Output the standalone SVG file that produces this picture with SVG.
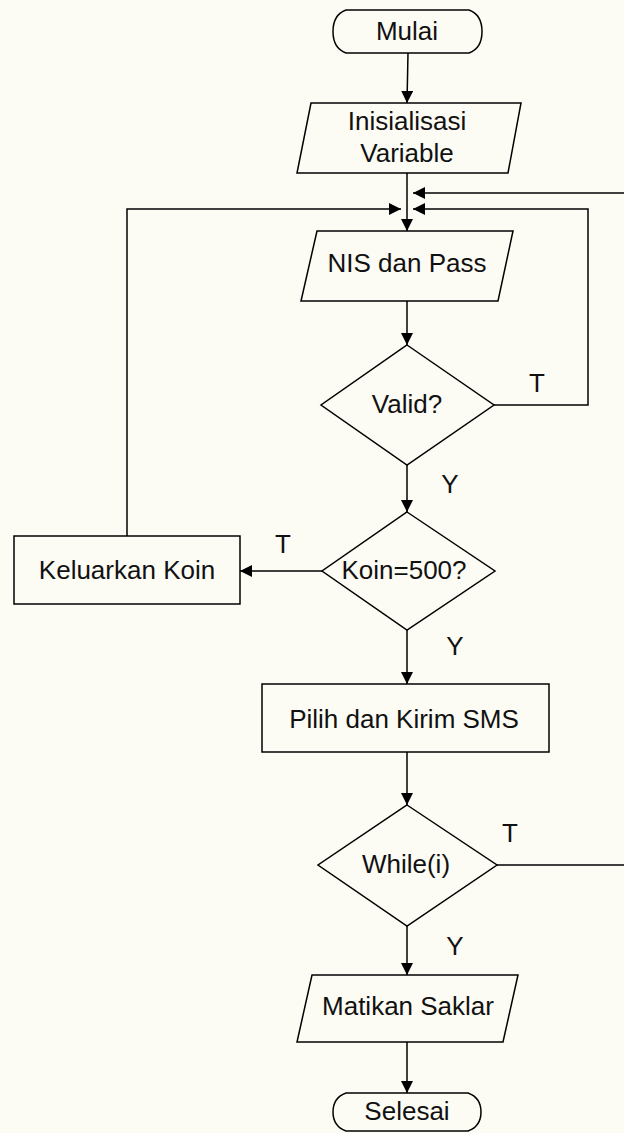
<svg xmlns="http://www.w3.org/2000/svg" width="624" height="1133" viewBox="0 0 624 1133">
<defs>
<style>
.s{fill:none;stroke:#000;stroke-width:1.5}
.n{fill:#fcfcf5;stroke:#000;stroke-width:1.5}
.t{font-family:"Liberation Sans",Arial,sans-serif;font-size:26px;fill:#111;text-anchor:middle}
</style>
<marker id="a" viewBox="0 0 12 12" refX="12" refY="6" markerWidth="12" markerHeight="12" markerUnits="userSpaceOnUse" orient="auto">
<path d="M0,0 L12,6 L0,12 z" fill="#000"/>
</marker>
</defs>
<rect width="624" height="1133" fill="#fcfcf5"/>
<g id="connectors">
<path class="s" d="M408,53 L407,103" marker-end="url(#a)"/>
<path class="s" d="M407,173 L407,231" marker-end="url(#a)"/>
<path class="s" d="M624,193 L413,193" marker-end="url(#a)"/>
<path class="s" d="M494,405 L588,405 L588,209 L413,209" marker-end="url(#a)"/>
<path class="s" d="M127,536 L127,209 L401,209" marker-end="url(#a)"/>
<path class="s" d="M407,301 L407,345" marker-end="url(#a)"/>
<path class="s" d="M407,465 L407,512" marker-end="url(#a)"/>
<path class="s" d="M322,571 L240,571" marker-end="url(#a)"/>
<path class="s" d="M407,630 L407,684" marker-end="url(#a)"/>
<path class="s" d="M407,752 L407,805" marker-end="url(#a)"/>
<path class="s" d="M497,865 L624,865"/>
<path class="s" d="M407,926 L407,975" marker-end="url(#a)"/>
<path class="s" d="M407,1042 L407,1093" marker-end="url(#a)"/>
<text class="t" x="537" y="392">T</text>
<text class="t" x="450" y="493">Y</text>
<text class="t" x="283" y="553">T</text>
<text class="t" x="455" y="655">Y</text>
<text class="t" x="510" y="842">T</text>
<text class="t" x="455" y="955">Y</text>
</g>
<g id="mulai">
<path class="n" d="M346,10 L469,10 C480,14 482,24 482,31.5 C482,39 480,49 469,53 L346,53 C335,49 333,39 333,31.5 C333,24 335,14 346,10 z"/>
<text class="t" x="407" y="40">Mulai</text>
</g>
<g id="inisialisasi">
<path class="n" d="M311,103 L521,103 L508,173 L297,173 z"/>
<text class="t" x="407" y="130">Inisialisasi</text>
<text class="t" x="407" y="162">Variable</text>
</g>
<g id="nis">
<path class="n" d="M317,231 L513,231 L498,301 L301,301 z"/>
<text class="t" x="407" y="272">NIS dan Pass</text>
</g>
<g id="valid">
<path class="n" d="M407,345 L494,405 L407,465 L321,405 z"/>
<text class="t" x="407" y="413">Valid?</text>
</g>
<g id="koin">
<path class="n" d="M407,512 L495,571 L407,630 L322,571 z"/>
<text class="t" x="404" y="579">Koin=500?</text>
</g>
<g id="keluarkan">
<rect class="n" x="14" y="536" width="226" height="68"/>
<text class="t" x="127" y="579">Keluarkan Koin</text>
</g>
<g id="pilih">
<rect class="n" x="262" y="684" width="287" height="68"/>
<text class="t" x="404" y="728">Pilih dan Kirim SMS</text>
</g>
<g id="while">
<path class="n" d="M407,805 L497,865 L407,926 L318,865 z"/>
<text class="t" x="406" y="873">While(i)</text>
</g>
<g id="matikan">
<path class="n" d="M312,975 L518,975 L503,1042 L297,1042 z"/>
<text class="t" x="408" y="1015">Matikan Saklar</text>
</g>
<g id="selesai">
<path class="n" d="M346,1093 L468,1093 C479,1097 481,1105 481,1112 C481,1119 479,1127 468,1131 L346,1131 C335,1127 333,1119 333,1112 C333,1105 335,1097 346,1093 z"/>
<text class="t" x="407" y="1120">Selesai</text>
</g>
</svg>
